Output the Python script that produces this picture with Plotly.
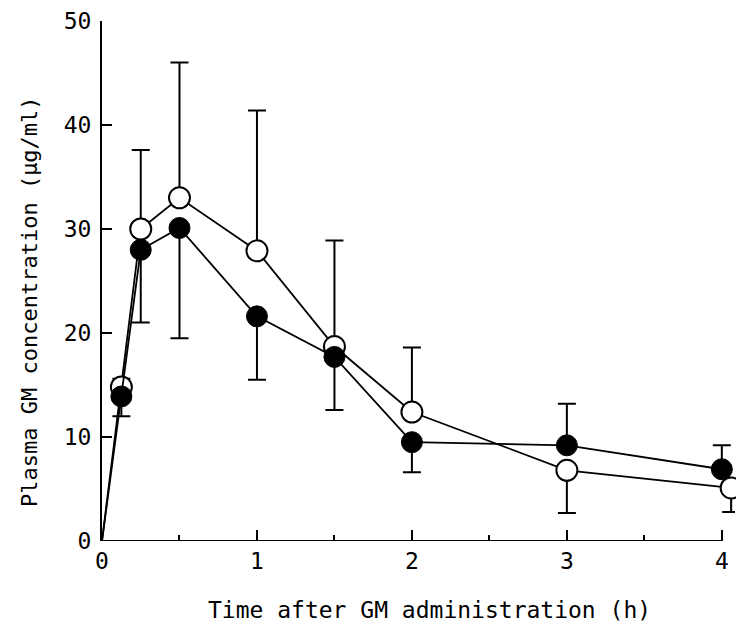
import plotly.graph_objects as go

# Sampling times (h)
t_open = [0, 0.125, 0.25, 0.5, 1.0, 1.5, 2.0, 3.0, 4.06]
t_filled = [0, 0.125, 0.25, 0.5, 1.0, 1.5, 2.0, 3.0, 4.0]

# Plasma GM concentration (ug/ml), mean values
conc_open = [0, 14.8, 30.0, 33.0, 27.9, 18.7, 12.4, 6.8, 5.1]
conc_filled = [0, 13.9, 28.0, 30.1, 21.6, 17.7, 9.5, 9.2, 6.9]

# One-sided SD bars
open_err_up = [0, 0.8, 7.6, 13.0, 13.5, 10.2, 6.2, 0, 0]
open_err_down = [0, 0, 0, 0, 0, 0, 0, 4.1, 2.3]
filled_err_up = [0, 0, 0, 0, 0, 0, 0, 4.0, 2.3]
filled_err_down = [0, 1.9, 7.0, 10.6, 6.1, 5.1, 2.9, 0, 0]

x_ticks = [0, 1, 2, 3, 4]
y_ticks = [0, 10, 20, 30, 40, 50]

FONT = "DejaVu Sans Mono"
marker_sizes = [0] + [21] * (len(t_open) - 1)

PLOT_L, PLOT_R = 102, 1
PLOT_W = 736 - PLOT_L - PLOT_R
PLOT_T, PLOT_B = 21, 86
PLOT_H = 627 - PLOT_T - PLOT_B

fig = go.Figure()

fig.add_trace(go.Scatter(
    x=t_open, y=conc_open, mode="lines+markers", cliponaxis=False,
    line=dict(color="black", width=1.8),
    marker=dict(symbol="circle", size=marker_sizes, color="white", opacity=1,
                line=dict(color="black", width=2)),
    error_y=dict(type="data", symmetric=False, array=open_err_up,
                 arrayminus=open_err_down, color="black", thickness=2, width=9),
    showlegend=False,
))

fig.add_trace(go.Scatter(
    x=t_filled, y=conc_filled, mode="lines+markers", cliponaxis=False,
    line=dict(color="black", width=1.8),
    marker=dict(symbol="circle", size=marker_sizes, color="black", opacity=1,
                line=dict(color="black", width=1)),
    error_y=dict(type="data", symmetric=False, array=filled_err_up,
                 arrayminus=filled_err_down, color="black", thickness=2, width=9),
    showlegend=False,
))

# x-axis baseline stops at the last major tick
fig.add_shape(type="line", xref="x", yref="y", x0=x_ticks[0], x1=x_ticks[-1],
              y0=0, y1=0, line=dict(color="black", width=2), layer="above")

fig.update_layout(
    width=736, height=627,
    margin=dict(l=PLOT_L, r=PLOT_R, t=PLOT_T, b=PLOT_B),
    paper_bgcolor="white", plot_bgcolor="white",
    font=dict(family=FONT, size=23, color="black"),
    xaxis=dict(
        range=[0, 4.085], tickvals=x_ticks, ticktext=[str(v) for v in x_ticks],
        showline=False,
        ticks="inside", ticklen=11, tickwidth=2, tickcolor="black",
        minor=dict(tickvals=[0.5, 1.5, 2.5, 3.5], ticks="inside", ticklen=6,
                   tickwidth=1.5, tickcolor="black"),
        showgrid=False, zeroline=False, ticklabelstandoff=4,
    ),
    yaxis=dict(
        range=[0, 50], tickvals=y_ticks, ticktext=[str(v) for v in y_ticks],
        showline=True, linecolor="black", linewidth=2, mirror=False,
        ticks="inside", ticklen=10, tickwidth=2, tickcolor="black",
        showgrid=False, zeroline=False, ticklabelstandoff=4,
    ),
    annotations=[
        dict(text="Time after GM administration (h)", xref="paper", yref="paper",
             x=(430 - PLOT_L) / PLOT_W, y=-(610 - 541) / PLOT_H, xanchor="center",
             yanchor="middle", showarrow=False, font=dict(family=FONT, size=23)),
        dict(text="Plasma GM concentration (\u03bcg/ml)", xref="paper", yref="paper",
             x=-(PLOT_L - 29) / PLOT_W, y=(541 - 302) / PLOT_H, xanchor="center",
             yanchor="middle", textangle=-90, showarrow=False,
             font=dict(family=FONT, size=22)),
    ],
)

fig.write_html("out.html")
